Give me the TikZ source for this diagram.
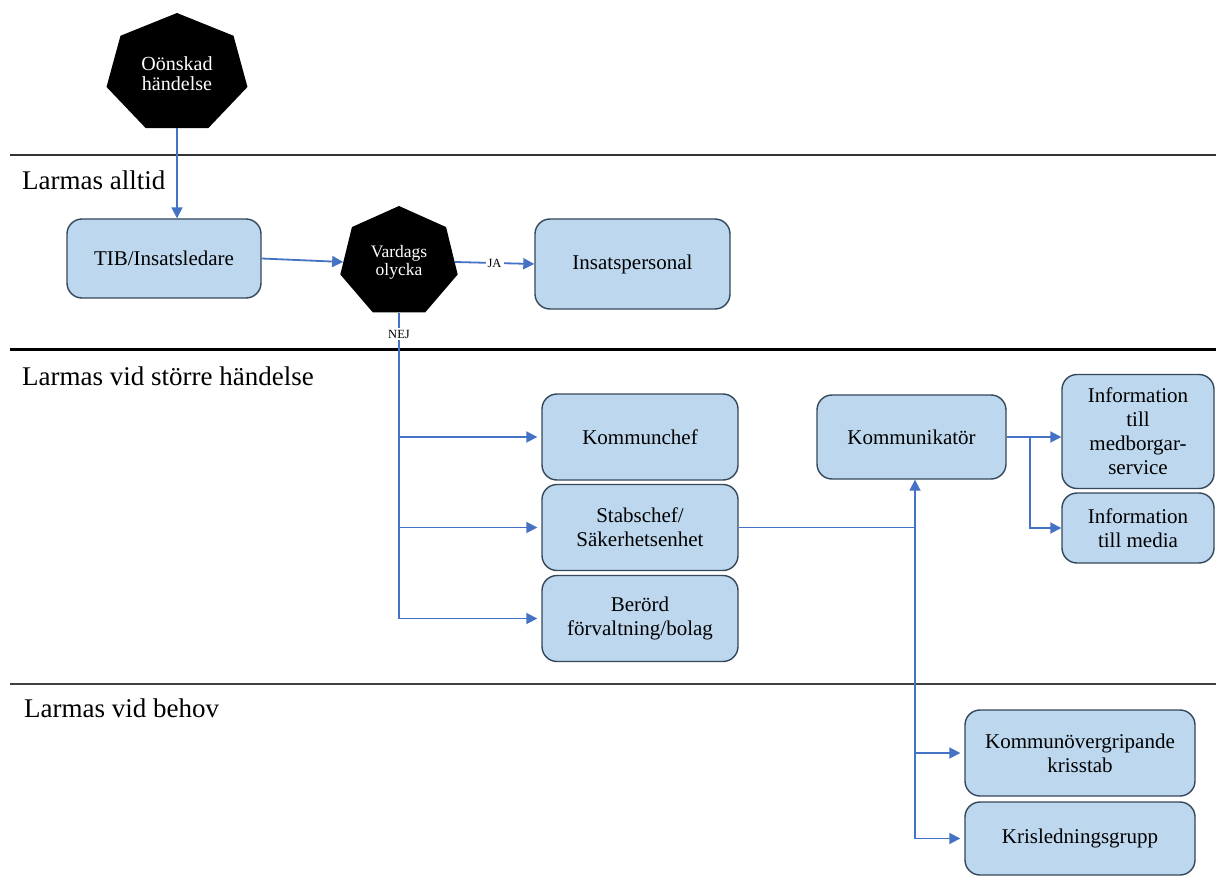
\documentclass[tikz,border=0pt]{standalone}
\usepackage{fontspec}
\setmainfont{Liberation Serif}
\newfontfamily\narrowA[FakeStretch=0.84]{Liberation Serif}
\newfontfamily\narrowB[FakeStretch=0.93]{Liberation Serif}
\usetikzlibrary{shapes.geometric,arrows.meta}
\definecolor{boxfill}{HTML}{BDD7EE}
\definecolor{boxline}{HTML}{35475A}
\definecolor{linkblue}{HTML}{4472C4}
\tikzstyle{actor}=[rectangle,rounded corners=15pt,draw=boxline,fill=boxfill,
                   line width=1.4pt,align=center,
                   font=\fontsize{21}{24}\selectfont]
\tikzstyle{decision}=[regular polygon,regular polygon sides=7,fill=black,
                      text=white,inner sep=0pt,align=center]
\tikzstyle{link}=[draw=linkblue,line width=1.8pt]
\tikzstyle{arr}=[link,-{Triangle[length=11pt,width=11pt]}]
\tikzstyle{lane}=[anchor=base west,inner sep=0pt,
                  font=\fontsize{27}{30}\selectfont]
\tikzstyle{answer}=[fill=white,inner sep=2pt,
                    font=\fontsize{12.5}{14}\selectfont]

\begin{document}
\begin{tikzpicture}[x=1pt,y=-1pt]
  \useasboundingbox (0,0) rectangle (1216,877);
  % lanes
  \draw[line width=2pt,black!80] (10,155) -- (1216,155);
  \draw[line width=3pt,black] (10,350) -- (1216,350);
  \draw[line width=2pt,black!75] (10,684) -- (1216,684);
  \node[lane] (lalltid) at (22,190) {Larmas alltid};
  \node[lane] (lstorre) at (22,385) {Larmas vid större händelse};
  \node[lane] (lbehov) at (24,717) {Larmas vid behov};

  % nodes
  \node[decision,minimum size=121pt,xscale=1.195,
        font=\narrowA\fontsize{20}{20}\selectfont] (event) at (177,73.5)
        {Oönskad\\händelse};
  \node[actor,minimum width=194pt,minimum height=79pt] (tib) at (164,258.5)
        {TIB/Insatsledare};
  \node[decision,minimum size=112pt,xscale=1.075,
        font=\narrowB\fontsize{17.5}{18}\selectfont] (vardag) at (399,262)
        {Vardags\\olycka};
  \node[actor,minimum width=195pt,minimum height=90pt] (insats) at (632.5,264)
        {Insatspersonal};
  \node[actor,minimum width=196pt,minimum height=86pt] (kchef) at (640,437)
        {Kommunchef};
  \node[actor,minimum width=196pt,minimum height=86pt] (stab) at (640,527.5)
        {Stabschef/\\Säkerhetsenhet};
  \node[actor,minimum width=196pt,minimum height=86pt] (berord) at (640,618.5)
        {Berörd\\förvaltning/bolag};
  \node[actor,minimum width=189pt,minimum height=84pt] (komm) at (911.5,437)
        {Kommunikatör};
  \node[actor,minimum width=152pt,minimum height=114pt] (medb) at (1138,431.5)
        {Information\\till\\medborgar-\\service};
  \node[actor,minimum width=152pt,minimum height=70pt] (media) at (1138,528)
        {Information\\till media};
  \node[actor,minimum width=230pt,minimum height=86pt] (kris) at (1080,753)
        {Kommunövergripande\\krisstab};
  \node[actor,minimum width=230pt,minimum height=73pt] (klg) at (1080,838.5)
        {Krisledningsgrupp};
  \coordinate (hub) at (915,527.5);
  \coordinate (split) at (1030,437);

  % connectors
  \draw[arr] (event.south) -- (event.south |- tib.north);
  \draw[arr] (tib.east) -- (vardag.west);
  \draw[arr] (vardag.east) -- node[answer] {JA} (insats.west);
  \draw[link] (vardag.south) -- node[answer,pos=0.07] {NEJ}
        (vardag.south |- berord.west);
  \draw[arr,shorten >=4pt] (vardag.south |- kchef.west) -- (kchef.west);
  \draw[arr,shorten >=4pt] (vardag.south |- stab.west) -- (stab.west);
  \draw[arr,shorten >=4pt] (vardag.south |- berord.west) -- (berord.west);
  \draw[link] (stab.east) -- (hub);
  \draw[arr] (hub) -- (hub |- komm.south);
  \draw[arr,shorten >=4pt] (hub) |- (kris.west);
  \draw[arr,shorten >=4pt] (hub) |- (klg.west);
  \draw[arr] (komm.east) -- (komm.east -| medb.west);
  \draw[arr] (split) |- (media.west);
\end{tikzpicture}
\end{document}
